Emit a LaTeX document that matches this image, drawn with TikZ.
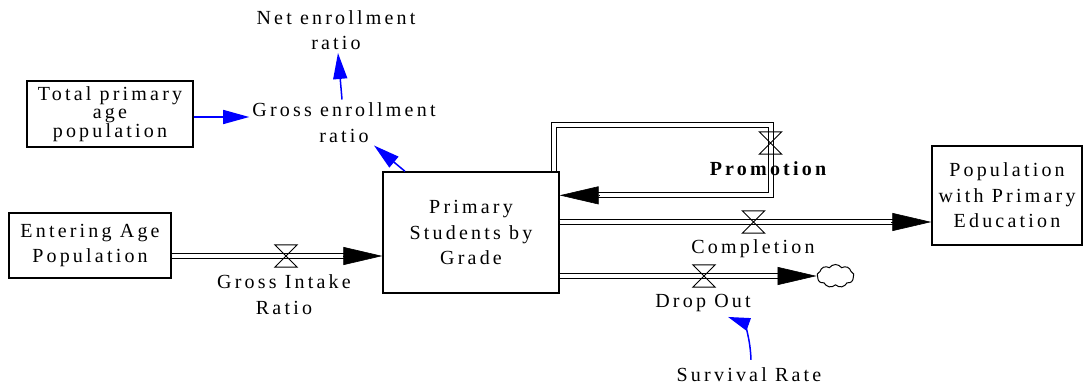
\documentclass[tikz,border=0pt]{standalone}
\usepackage{fontspec}
\setmainfont{Liberation Serif}[LetterSpace=16]
\usetikzlibrary{arrows.meta,shapes.symbols}

\tikzset{
  every node/.style={font=\fontsize{20}{25.5}\selectfont},
  estoque/.style={draw, line width=1.3pt, inner sep=0pt, align=center},
  rotulo/.style={align=center, inner sep=3pt},
  valvula/.style={minimum width=22pt, minimum height=22pt, inner sep=0pt},
  cano/.style={double, double distance=4pt, line width=1pt, line join=miter},
  ponta/.style={-{Triangle[length=39pt,width=18pt,fill=black]}, line width=0.6pt},
  info/.style={blue, line width=1.5pt, -{Triangle[length=26pt,width=14pt]}},
}

\begin{document}
\begin{tikzpicture}[x=1pt,y=-1pt]
\useasboundingbox (0,0) rectangle (1083,387);

% estoques
\node[estoque, minimum width=166pt, minimum height=66pt,
      font=\fontsize{20}{18.7}\selectfont] (tot) at (110,114)
  {Total primary\\age\\population};
\node[estoque, minimum width=162pt, minimum height=65pt] (ent) at (90,245.5)
  {Entering Age\\Population};
\node[estoque, minimum width=176pt, minimum height=121pt] (prim) at (471,232.5)
  {Primary\\Students by\\Grade};
\node[estoque, minimum width=150pt, minimum height=99pt] (pop) at (1007,195.5)
  {Population\\with Primary\\Education};
\node[draw, cloud, cloud puffs=9, cloud puff arc=110, aspect=1.6,
      minimum width=37pt, minimum height=23pt, inner sep=0pt,
      line width=1pt] (nuvem) at (835.5,276) {};

% pontos dos canos
\coordinate (gi-in) at ([yshift=-23.5pt]prim.west);
\coordinate (pr-out) at ([xshift=-5.5pt]prim.north east);
\coordinate (pr-in) at ([yshift=-24pt]prim.north east);
\coordinate (co-in) at ([yshift=-26.5pt]pop.west);
\coordinate (do-out) at ([yshift=-43.5pt]prim.east);
\coordinate (do-in) at (do-out -| nuvem.west);

% valvulas
\node[valvula] (giv) at (286,256) {};
\node[valvula] (prv) at (770.5,143) {};
\node[valvula] (cov) at (753.5,222) {};
\node[valvula] (dov) at (704,276) {};

% canos
\draw[cano, shorten >=36pt] (gi-in -| ent.east) -- (gi-in);
\draw[cano, shorten >=36pt] (pr-out) -- ++(0,-46.5) -| (prv.center) -- (prv |- pr-in) -- (pr-in);
\draw[cano, shorten >=36pt] (prim.east |- co-in) -- (co-in);
\draw[cano, shorten >=36pt] (do-out) -- (do-in);

% pontas
\draw[ponta] ([xshift=-39pt]gi-in) -- (gi-in);
\draw[ponta] ([xshift=39pt]pr-in) -- (pr-in);
\draw[ponta] ([xshift=-40pt]co-in) -- (co-in);
\draw[ponta] ([xshift=-39pt]do-in) -- (do-in);

\foreach \v in {giv, prv, cov, dov} {
  \draw[line width=1pt] (\v.north west) -- (\v.north east)
    -- (\v.south west) -- (\v.south east) -- cycle;
}

% rotulos
\node[rotulo] (gi) at (284,294.5) {Gross Intake\\Ratio};
\node[rotulo] (pr) at (768,169) {\bfseries Promotion};
\node[rotulo] (co) at (753,249) {Completion};
\node[rotulo] (do) at (703,303) {Drop Out};
\node[rotulo] (ger) at (344,122.5) {Gross enrollment\\ratio};
\node[rotulo] (ner) at (336,30) {Net enrollment\\ratio};
\node[rotulo] (sr) at (749,375) {Survival Rate};

% setas de informacao
\draw[info] ([yshift=-3pt]tot.east) -- ([yshift=-3pt]tot.east -| ger.west);
\draw[info] (ger) -- (ner);
\draw[info] ([xshift=-66pt]prim.north) -- ([xshift=30pt]ger.south);
\draw[info, -{Triangle[length=22pt,width=13pt]}] ([xshift=2pt,yshift=5pt]sr.north)
  .. controls (750,332) and (742,322) .. ([xshift=25pt,yshift=-2pt]do.south);

\end{tikzpicture}
\end{document}
